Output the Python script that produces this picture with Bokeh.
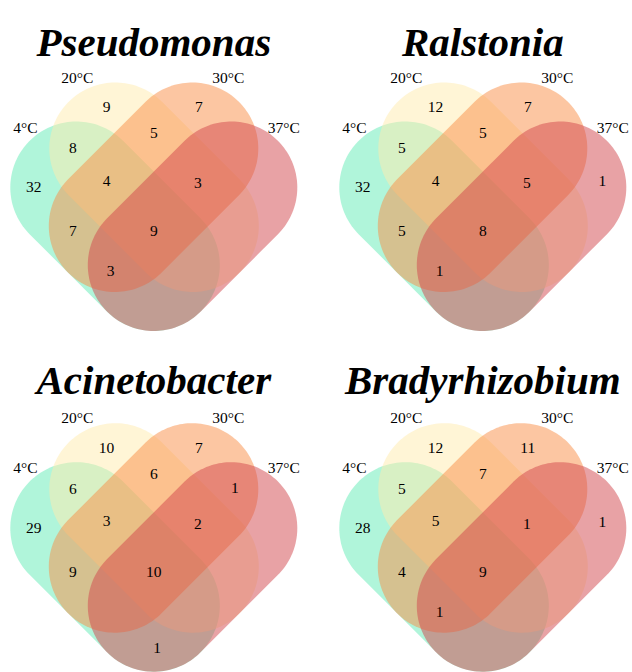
import numpy as np
from bokeh.plotting import figure
from bokeh.models import Range1d
from bokeh.core.properties import value
from bokeh.embed import file_html
from bokeh.resources import INLINE

# ---------------- data ----------------
titles = ["Pseudomonas", "Ralstonia", "Acinetobacter", "Bradyrhizobium"]
set_names = ["4°C", "20°C", "30°C", "37°C"]
# region keys: A=4°C, B=20°C, C=30°C, D=37°C (only-in-these-sets counts)
regions = ["A", "B", "C", "D", "AB", "BC", "CD", "ABC", "BCD",
           "AC", "ABCD", "BD", "ACD", "ABD", "AD"]
pseudomonas = [32, 9, 7, 0, 8, 5, 0, 4, 3, 7, 9, 0, 3, 0, 0]
ralstonia = [32, 12, 7, 1, 5, 5, 0, 4, 5, 5, 8, 0, 1, 0, 0]
acinetobacter = [29, 10, 7, 0, 6, 6, 1, 3, 2, 9, 10, 0, 0, 0, 1]
bradyrhizobium = [28, 12, 11, 1, 5, 7, 0, 5, 1, 4, 9, 0, 1, 0, 0]
panel_values = [pseudomonas, ralstonia, acinetobacter, bradyrhizobium]

# ---------------- layout / style ----------------
colors = ["#61EBB5", "#FFEBAD", "#F98D45", "#D1454B"]
ALPHA = 0.5
FONT = "Liberation Serif"

panel_x = [153.3, 482.3]
panel_y = [264.5, 605.2]
title_y = [41.7, 379.3]
d, s, r = 77.5, 39.0, 66.0

# cap centres of each stadium relative to the panel anchor
caps = [
    ((-d, -d), (0.0, 0.0)),            # 4°C
    ((-d + s, -d - s), (s, -s)),       # 20°C
    ((d - s, -d - s), (-s, -s)),       # 30°C
    ((d, -d), (0.0, 0.0)),             # 37°C
]
# label offsets for each region
region_pos = {
    "A": (-120, -77.8), "B": (-47.3, -157.8), "C": (45, -157.8), "D": (119.5, -84),
    "AB": (-81, -117.2), "BC": (0, -131.8), "CD": (81, -118),
    "ABC": (-47.3, -84.5), "BCD": (44, -81.8),
    "AC": (-81, -33.8), "ABCD": (0, -33.8), "BD": (81, -33.8),
    "ACD": (-43.3, 6.2), "ABD": (43.3, 6.2), "AD": (3.4, 42.1),
}
set_label_pos = [(-128.3, -137.8), (-76.6, -187.8), (74.4, -187.8), (130, -137.8)]


def stadium(c1, c2, rad, n=80):
    (x1, y1), (x2, y2) = c1, c2
    th = np.arctan2(y2 - y1, x2 - x1)
    a1 = np.linspace(th + np.pi / 2, th + 3 * np.pi / 2, n)
    a2 = np.linspace(th - np.pi / 2, th + np.pi / 2, n)
    xs = np.concatenate([x1 + rad * np.cos(a1), x2 + rad * np.cos(a2)])
    ys = np.concatenate([y1 + rad * np.sin(a1), y2 + rad * np.sin(a2)])
    return xs, ys


p = figure(width=632, height=672, output_backend="svg", toolbar_location=None,
           x_range=Range1d(0, 632), y_range=Range1d(672, 0), min_border=0)
p.axis.visible = False
p.grid.visible = False
p.outline_line_color = None
p.background_fill_color = "white"
p.border_fill_color = "white"

for k, vals in enumerate(panel_values):
    ox = panel_x[k % 2]
    oy = panel_y[k // 2]
    for (c1, c2), col in zip(caps, colors):
        xs, ys = stadium((ox + c1[0], oy + c1[1]), (ox + c2[0], oy + c2[1]), r)
        p.patch(xs, ys, fill_color=col, fill_alpha=ALPHA, line_color=None)

    tx, ty, tt = [], [], []
    for reg, v in zip(regions, vals):
        if v > 0:
            dx, dy = region_pos[reg]
            tx.append(ox + dx)
            ty.append(oy + dy)
            tt.append(str(v))
    p.text(x=tx, y=ty, text=tt, text_font=value(FONT), text_font_size="15.5px",
           text_align="center", text_baseline="middle", text_color="black")

    p.text(x=[ox + dx for dx, dy in set_label_pos],
           y=[oy + dy for dx, dy in set_label_pos],
           text=set_names, text_font=value(FONT), text_font_size="15.5px",
           text_align="center", text_baseline="middle", text_color="black")

    p.text(x=[ox], y=[title_y[k // 2]], text=[titles[k]], text_font=value(FONT),
           text_font_size="41px", text_font_style="bold italic",
           text_align="center", text_baseline="alphabetic", text_color="black")

open("out.html", "w").write(file_html(p, INLINE))
